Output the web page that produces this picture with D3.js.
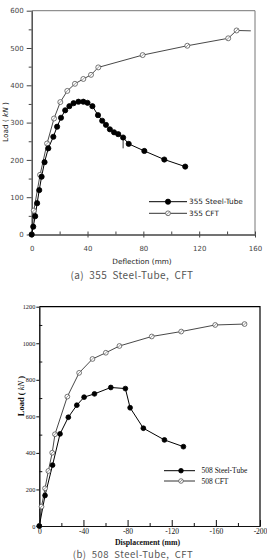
<!DOCTYPE html>
<html>
<head>
<meta charset="utf-8">
<script src="https://cdn.jsdelivr.net/npm/d3@7"></script>
<style>
    body { margin: 0; background: #fff; }
    svg { display: block; }
</style>
</head>
<body>
<svg width="267" height="560"></svg>
<script>
// (a) 355 - deflection (mm), load (kN)
var steel355 = [[0, 0], [1.1, 21], [2.5, 49], [3.9, 84], [5.4, 119], [7.1, 155], [9.2, 194], [11.9, 231],
    [15.5, 262], [18.2, 289], [21, 313], [24, 333], [27, 344], [30, 352], [33.5, 356], [37, 356],
    [40, 353], [43.5, 344], [47.5, 320], [50.5, 305], [53.2, 294], [56, 282], [59, 274], [62, 269],
    [65.5, 260], [69.5, 243], [80.7, 224], [95, 201], [110, 182]];
var cft355 = [[0, 0], [1.5, 64], [6, 160], [11, 244], [16, 311], [20.5, 355], [25.5, 385], [31, 404],
    [37, 417], [42.5, 428], [47.7, 448], [79.5, 481], [111.5, 506], [140.8, 526], [146.8, 547]];
var cft355End = [157, 546];
var mark355 = [65.5, 260, 231];

// (b) 508 - displacement (mm), load (kN)
var steel508 = [[0, 0], [-5.2, 167], [-12, 333], [-18.8, 504], [-26.3, 595], [-34, 661], [-40.6, 705],
    [-50, 723], [-64.8, 758], [-78, 752], [-82.3, 647], [-94.3, 535], [-113.4, 471], [-130.6, 434]];
var cft508 = [[0, 0], [-2, 106], [-5.2, 206], [-8.2, 301], [-11.7, 401], [-14.2, 502], [-25.4, 708],
    [-36.1, 838], [-48.2, 914], [-60.3, 948], [-72.6, 985], [-101.9, 1037], [-128.6, 1064],
    [-159.4, 1100], [-186, 1105]];

var ticksX355 = [0, 40, 80, 120, 160];
var minorX355 = [20, 60, 100, 140];
var ticksY355 = [0, 100, 200, 300, 400, 500, 600];
var minorY355 = [50, 150, 250, 350, 450, 550];
var ticksX508 = [0, -40, -80, -120, -160, -200];
var minorX508 = [-20, -60, -100, -140, -180];
var ticksY508 = [0, 200, 400, 600, 800, 1000, 1200];
var minorY508 = [100, 300, 500, 700, 900, 1100];

var legend355 = ["355 Steel-Tube", "355 CFT"];
var legend508 = ["508 Steel-Tube", "508 CFT"];
var captions = ["(a)  355  Steel-Tube,  CFT", "(b)  508  Steel-Tube,  CFT"];

var svg = d3.select("svg");

function drawMarkers(g, data, x, y, filled, r, col) {
    g.selectAll(null)
        .data(data)
        .enter()
        .append("circle")
        .attr("cx", function(d) { return x(d[0]); })
        .attr("cy", function(d) { return y(d[1]); })
        .attr("r", r)
        .attr("fill", filled ? "#000" : "#fff")
        .attr("stroke", filled ? "#000" : col)
        .attr("stroke-width", 0.8);
    if (!filled) {
        g.selectAll(null)
            .data(data)
            .enter()
            .append("line")
            .attr("x1", function(d) { return x(d[0]) - r * 0.7; })
            .attr("y1", function(d) { return y(d[1]) + r * 0.7; })
            .attr("x2", function(d) { return x(d[0]) + r * 0.7; })
            .attr("y2", function(d) { return y(d[1]) - r * 0.7; })
            .attr("stroke", col)
            .attr("stroke-width", 0.6);
    }
}

function styleAxis(g, col, font, size) {
    g.select(".domain").attr("stroke", col);
    g.selectAll(".tick line").attr("stroke", col);
    g.selectAll(".tick text")
        .attr("fill", col)
        .style("font-family", font)
        .style("font-size", size + "px");
}

// ---------- chart (a)
var x1 = d3.scaleLinear([0, 160], [31.7, 255]);
var y1 = d3.scaleLinear([0, 600], [234.5, 10.7]);
var col1 = "#444";
var font1 = "'DejaVu Sans', sans-serif";

var gTop = svg.append("g");

// frame
gTop.append("path")
    .attr("d", "M" + x1(0) + "," + y1(600) + "H" + x1(160) + "V" + y1(0))
    .attr("fill", "none")
    .attr("stroke", "#777")
    .attr("stroke-width", 1);

var ax1 = gTop.append("g")
    .attr("transform", "translate(0," + y1(0) + ")")
    .call(d3.axisBottom(x1).tickValues(ticksX355).tickSize(3).tickPadding(9).tickSizeOuter(0));
styleAxis(ax1, col1, font1, 7);
var ax1in = gTop.append("g")
    .attr("transform", "translate(0," + y1(0) + ")")
    .call(d3.axisBottom(x1).tickValues(ticksX355.concat(minorX355)).tickSize(-3).tickFormat("").tickSizeOuter(0));
styleAxis(ax1in, col1, font1, 7);

var ay1 = gTop.append("g")
    .attr("transform", "translate(" + x1(0) + ",0)")
    .call(d3.axisLeft(y1).tickValues(ticksY355).tickSize(5).tickPadding(3).tickSizeOuter(0));
styleAxis(ay1, col1, font1, 7);
var ay1m = gTop.append("g")
    .attr("transform", "translate(" + x1(0) + ",0)")
    .call(d3.axisLeft(y1).tickValues(minorY355).tickSize(3).tickFormat("").tickSizeOuter(0));
styleAxis(ay1m, col1, font1, 7);

var line1 = d3.line().x(function(d) { return x1(d[0]); }).y(function(d) { return y1(d[1]); });

gTop.append("path")
    .attr("d", line1(cft355.concat([cft355End])))
    .attr("fill", "none")
    .attr("stroke", "#333")
    .attr("stroke-width", 0.9);
gTop.append("path")
    .attr("d", line1(steel355))
    .attr("fill", "none")
    .attr("stroke", "#000")
    .attr("stroke-width", 1);
gTop.append("line")
    .attr("x1", x1(mark355[0])).attr("x2", x1(mark355[0]))
    .attr("y1", y1(mark355[1])).attr("y2", y1(mark355[2]))
    .attr("stroke", "#000")
    .attr("stroke-width", 0.8);

drawMarkers(gTop, cft355, x1, y1, false, 2.5, "#555");
drawMarkers(gTop, steel355, x1, y1, true, 2.6, "#000");

// legend (a)
legend355.forEach(function(name, i) {
    var ly = 201.7 + i * 11.6;
    gTop.append("line")
        .attr("x1", 149).attr("x2", 187)
        .attr("y1", ly).attr("y2", ly)
        .attr("stroke", i == 0 ? "#000" : "#333")
        .attr("stroke-width", 1);
    drawMarkers(gTop, [[0, 0]], function() { return 168; }, function() { return ly; }, i == 0, i == 0 ? 2.6 : 2.4, "#555");
    gTop.append("text")
        .attr("x", 189)
        .attr("y", ly + 2.6)
        .style("font-family", font1)
        .style("font-size", "7.3px")
        .attr("fill", "#222")
        .text(name);
});

gTop.append("text")
    .attr("x", 142)
    .attr("y", 263.5)
    .attr("text-anchor", "middle")
    .style("font-family", font1)
    .style("font-size", "7.3px")
    .attr("fill", "#222")
    .text("Deflection (mm)");

var yl1 = gTop.append("text")
    .attr("transform", "translate(7.5,122) rotate(-90)")
    .attr("text-anchor", "middle")
    .style("font-family", font1)
    .style("font-size", "7.3px")
    .attr("fill", "#222");
yl1.append("tspan").text("Load ( ");
yl1.append("tspan").style("font-style", "italic").text("kN");
yl1.append("tspan").text(" )");

svg.append("text")
    .attr("x", 132)
    .attr("y", 279)
    .attr("text-anchor", "middle")
    .style("font-family", "'Noto Sans CJK KR', sans-serif")
    .style("font-size", "10px")
    .style("white-space", "pre")
    .style("letter-spacing", "0.4px")
    .attr("fill", "#555")
    .text(captions[0]);

// ---------- chart (b)
var x2 = d3.scaleLinear([0, -200], [39.3, 260]);
var y2 = d3.scaleLinear([0, 1200], [526, 306.7]);
var col2 = "#111";
var font2 = "'Liberation Serif', serif";

var gBot = svg.append("g");

gBot.append("path")
    .attr("d", "M" + x2(0) + "," + y2(1200) + "H" + x2(-200) + "V" + y2(0))
    .attr("fill", "none")
    .attr("stroke", "#000")
    .attr("stroke-width", 1.2);

var ax2 = gBot.append("g")
    .attr("transform", "translate(0," + y2(0) + ")")
    .call(d3.axisBottom(x2).tickValues(ticksX508).tickSize(-6).tickPadding(3).tickSizeOuter(0)
        .tickFormat(function(d) { return d == 0 ? "0" : "-" + Math.abs(d); }));
styleAxis(ax2, col2, font2, 7.5);
var ax2m = gBot.append("g")
    .attr("transform", "translate(0," + y2(0) + ")")
    .call(d3.axisBottom(x2).tickValues(minorX508).tickSize(-3).tickFormat("").tickSizeOuter(0));
styleAxis(ax2m, col2, font2, 7.5);

var ay2 = gBot.append("g")
    .attr("transform", "translate(" + x2(0) + ",0)")
    .call(d3.axisLeft(y2).tickValues(ticksY508).tickSize(3).tickPadding(1).tickSizeOuter(0)
        .tickFormat(d3.format("d")));
styleAxis(ay2, col2, font2, 6.3);
var ay2m = gBot.append("g")
    .attr("transform", "translate(" + x2(0) + ",0)")
    .call(d3.axisLeft(y2).tickValues(minorY508).tickSize(-3).tickFormat("").tickSizeOuter(0));
styleAxis(ay2m, col2, font2, 6.3);

var line2 = d3.line().x(function(d) { return x2(d[0]); }).y(function(d) { return y2(d[1]); });

gBot.append("path")
    .attr("d", line2(cft508))
    .attr("fill", "none")
    .attr("stroke", "#333")
    .attr("stroke-width", 0.9);
gBot.append("path")
    .attr("d", line2(steel508))
    .attr("fill", "none")
    .attr("stroke", "#000")
    .attr("stroke-width", 1);

drawMarkers(gBot, cft508, x2, y2, false, 2.4, "#555");
drawMarkers(gBot, steel508, x2, y2, true, 2.4, "#000");

legend508.forEach(function(name, i) {
    var ly = 470.7 + i * 10.3;
    gBot.append("line")
        .attr("x1", 164).attr("x2", 195)
        .attr("y1", ly).attr("y2", ly)
        .attr("stroke", i == 0 ? "#000" : "#333")
        .attr("stroke-width", 1);
    drawMarkers(gBot, [[0, 0]], function() { return 181; }, function() { return ly; }, i == 0, 2.3, "#555");
    gBot.append("text")
        .attr("x", 201.5)
        .attr("y", ly + 2.6)
        .style("font-family", font2)
        .style("font-size", "7.5px")
        .attr("fill", "#111")
        .text(name);
});

gBot.append("text")
    .attr("x", 147.5)
    .attr("y", 544.5)
    .attr("text-anchor", "middle")
    .style("font-family", font2)
    .style("font-size", "7.8px")
    .style("font-weight", "bold")
    .attr("fill", "#111")
    .text("Displacement (mm)");

var yl2 = gBot.append("text")
    .attr("transform", "translate(23.5,396) rotate(-90)")
    .attr("text-anchor", "middle")
    .style("font-family", font2)
    .style("font-size", "8.5px")
    .style("font-weight", "bold")
    .attr("fill", "#111");
yl2.append("tspan").text("Load ( ");
yl2.append("tspan").style("font-style", "italic").style("font-weight", "normal").text("kN");
yl2.append("tspan").text(" )");

svg.append("text")
    .attr("x", 133)
    .attr("y", 558)
    .attr("text-anchor", "middle")
    .style("font-family", "'Noto Sans CJK KR', sans-serif")
    .style("font-size", "9.5px")
    .style("white-space", "pre")
    .style("letter-spacing", "0.5px")
    .attr("fill", "#555")
    .text(captions[1]);
</script>
</body>
</html>
